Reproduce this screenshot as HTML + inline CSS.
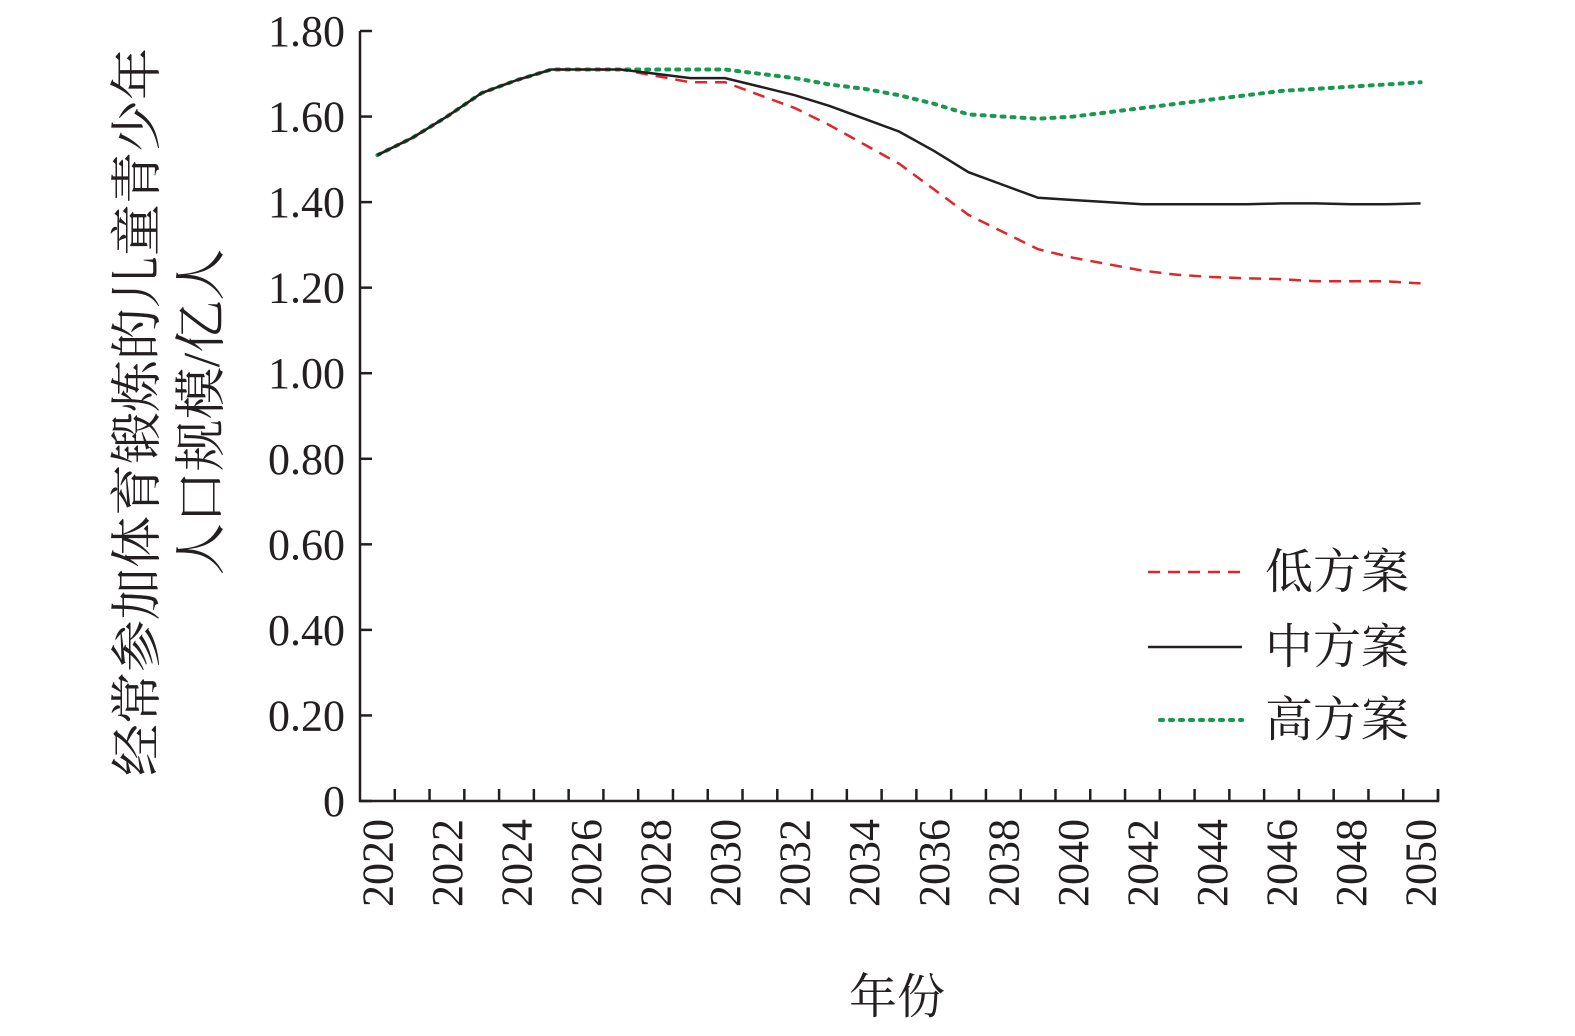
<!DOCTYPE html>
<html><head><meta charset="utf-8"><style>
body{margin:0;background:#fff}
svg{display:block}
text{font-family:"Liberation Serif","Noto Serif CJK SC",serif;fill:#231f20}
</style></head><body>
<svg width="1575" height="1036">
<g id="axes"></g>
<g id="series"></g>
<g transform="translate(155,412) rotate(-90)">
<text x="0" y="0" text-anchor="middle" font-size="52">经常参加体育锻炼的儿童青少年</text>
<text x="0" y="64" text-anchor="middle" font-size="52">人口规模/亿人</text>
</g>
<text x="897" y="1013" text-anchor="middle" font-size="48">年份</text>
<g>
<line x1="1148" y1="572" x2="1242" y2="572" stroke="#e0262b" stroke-width="2.5" stroke-dasharray="12,8"/>
<text x="1265" y="588" font-size="48">低方案</text>
<line x1="1148" y1="647" x2="1242" y2="647" stroke="#231f20" stroke-width="2.5"/>
<text x="1265" y="663" font-size="48">中方案</text>
<line x1="1160" y1="720" x2="1242" y2="720" stroke="#1a9850" stroke-width="4" stroke-dasharray="3,7" stroke-linecap="round"/>
<text x="1265" y="736" font-size="48">高方案</text>
</g>
</svg>
<script>
const years=[];for(let y=2020;y<=2050;y++)years.push(y);
const midValues=[1.51,1.55,1.60,1.655,1.685,1.71,1.71,1.71,1.70,1.69,1.69,1.67,1.65,1.625,1.595,1.565,1.52,1.47,1.44,1.41,1.405,1.40,1.395,1.395,1.395,1.395,1.397,1.397,1.395,1.395,1.397];
const lowValues=[1.51,1.55,1.60,1.655,1.685,1.71,1.71,1.71,1.695,1.68,1.68,1.65,1.62,1.58,1.535,1.49,1.43,1.37,1.33,1.29,1.27,1.255,1.24,1.23,1.225,1.222,1.22,1.215,1.215,1.215,1.21];
const highValues=[1.51,1.55,1.60,1.655,1.685,1.71,1.71,1.71,1.71,1.71,1.71,1.70,1.69,1.675,1.665,1.65,1.63,1.605,1.60,1.595,1.60,1.61,1.62,1.63,1.64,1.65,1.66,1.665,1.67,1.675,1.68];
const yTicks=[0,0.2,0.4,0.6,0.8,1.0,1.2,1.4,1.6,1.8];
const yTickLabels=["0","0.20","0.40","0.60","0.80","1.00","1.20","1.40","1.60","1.80"];
const NS="http://www.w3.org/2000/svg";
const x0=360,x1=1438,yTop=31,yBot=801;
const band=(x1-x0)/years.length;
const xs=i=>x0+(i+0.5)*band;
const ys=v=>yBot-(v/1.8)*(yBot-yTop);
function mk(t,a,p){const e=document.createElementNS(NS,t);for(const k in a)e.setAttribute(k,a[k]);p.appendChild(e);return e;}
const ax=document.getElementById('axes');
const yl=mk('path',{d:`M${x0} ${yTop}V${yBot}H${x1}V${yBot-12}`,fill:'none',stroke:'#231f20','stroke-width':2.5},ax);


yTicks.forEach((v,i)=>{
 const t=mk('line',{x1:x0,x2:x0+12,y1:ys(v),y2:ys(v),stroke:'#231f20','stroke-width':2.5},ax);
 
 
 const l=mk('text',{x:345,y:ys(v)+15,'text-anchor':'end','font-size':44},ax);
 l.textContent=yTickLabels[i];
 
 
});
years.forEach((yr,i)=>{
 const tx=x0+(i+1)*band;
 const t=mk('line',{x1:tx,x2:tx,y1:yBot,y2:yBot-12,stroke:'#231f20','stroke-width':2.5},ax);
 
 
 if(i%2===0){
  const l=mk('text',{x:0,y:0,'text-anchor':'end','font-size':44,transform:`translate(${xs(i)+15},${yBot+18}) rotate(-90)`},ax);
  l.textContent=yr;
  
  
 }
});
const sg=document.getElementById('series');
function line(vals,stroke,w,dash,name){
 const d=vals.map((v,i)=>(i?'L':'M')+xs(i).toFixed(1)+' '+ys(v).toFixed(1)).join('');
 const p=mk('path',{d,fill:'none',stroke,'stroke-width':w,'stroke-linecap':dash&&dash.startsWith('3')?'round':'butt'},sg);
 if(dash)p.setAttribute('stroke-dasharray',dash);
 
 
}
line(highValues,'#1a9850',4,'3,7','line-high');
line(lowValues,'#e0262b',2.5,'12,8','line-low');
line(midValues,'#231f20',2.5,null,'line-mid');
</script>
</body></html>
